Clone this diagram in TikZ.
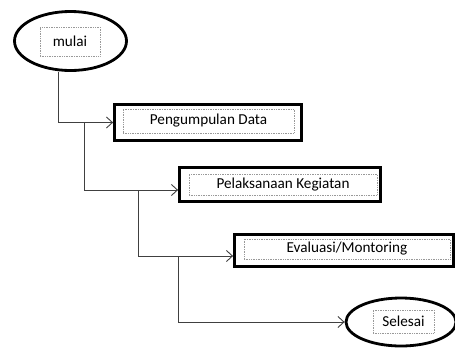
\documentclass[tikz,border=0pt]{standalone}
\usepackage{fontspec}
\setmainfont{Carlito}
\usetikzlibrary{shapes.geometric,arrows.meta}
\begin{document}
\begin{tikzpicture}[x=1pt,y=-1pt,
  startend/.style={draw=black,line width=2.8pt,ellipse,inner sep=0pt},
  procbox/.style={draw=black,line width=2.8pt,rectangle,inner sep=0pt},
  inbox/.style={draw=gray!80,densely dotted,line width=0.7pt,rectangle,inner sep=0pt,
    font=\fontsize{15.2}{17}\selectfont,text=black},
  conn/.style={draw=black!75,line width=0.9pt,-{Straight Barb[length=6pt,width=11pt,line width=0.9pt]}}]
\path[use as bounding box,clip] (0,0) rectangle (455,349);
\fill[white] (0,0) rectangle (455,349);
% start
\node[startend,minimum width=112pt,minimum height=59pt] (mulai) at (70.5,41) {};
\node[inbox,minimum width=60pt,minimum height=29pt] (mulaiT) at (70,41.5) {mulai};
% boxes
\node[procbox,minimum width=187pt,minimum height=36pt] (box1) at (208,122.5) {};
\node[inbox,minimum width=171pt,minimum height=24pt] (box1T) at (208.5,121) {Pengumpulan Data};
\node[procbox,minimum width=201pt,minimum height=34pt] (box2) at (280,184.5) {};
\node[inbox,minimum width=188pt,minimum height=21pt] (box2T) at (283,184.5) {Pelaksanaan Kegiatan};
\node[procbox,minimum width=219pt,minimum height=32pt] (box3) at (344,250.5) {};
\node[inbox,minimum width=206pt,minimum height=20pt] (box3T) at (347,249) {Evaluasi/Montoring};
% end
\node[startend,minimum width=110pt,minimum height=48pt] (selesai) at (401,322) {};
\node[inbox,minimum width=61pt,minimum height=23pt] (selesaiT) at (403.5,321.5) {Selesai};
% connectors
\coordinate (j1) at (58,122.5);
\coordinate (b2) at (84,122.5);
\coordinate (b3) at (138,190);
\coordinate (b4) at (178,256);
\draw[conn] (mulai.south -| j1) |- (box1.west);
\draw[conn] (b2) |- ([yshift=-5.5pt]box2.west);
\draw[conn] (b3) |- ([yshift=-5.5pt]box3.west);
\draw[conn] (b4) |- (selesai.west);
\end{tikzpicture}
\end{document}
